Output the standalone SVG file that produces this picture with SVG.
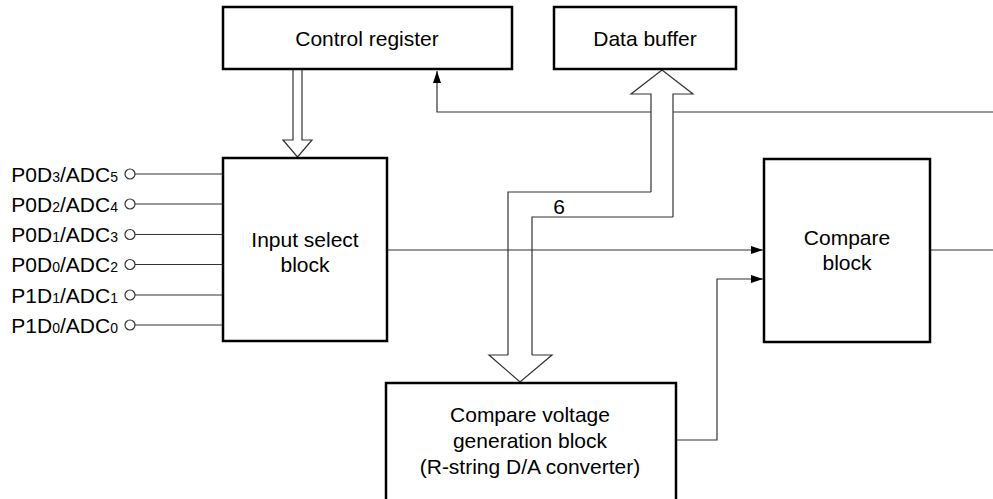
<svg xmlns="http://www.w3.org/2000/svg" width="993" height="499" viewBox="0 0 993 499">
<style>
.box{fill:#fff;stroke:#000;stroke-width:2.5}
.ln{fill:none;stroke:#333;stroke-width:1.2}
.bus{fill:#fff;stroke:#333;stroke-width:1.2}
text{font-family:"Liberation Sans",Arial,sans-serif;font-size:21px;fill:#000}
.c{text-anchor:middle}
.e{text-anchor:end}
.s{font-size:14px}
.pin{fill:#fff;stroke:#333;stroke-width:1.2}
</style>
<defs>
<marker id="ah" markerWidth="12" markerHeight="8" refX="12" refY="4" orient="auto" markerUnits="userSpaceOnUse">
<path d="M0,0 L12,4 L0,8 Z" fill="#000"/>
</marker>
</defs>
<rect width="993" height="499" fill="#fff"/>
<g id="connectors">
<path class="ln" d="M993,112 H437 V71" marker-end="url(#ah)"/>
<path class="ln" d="M388,250 H763" marker-end="url(#ah)"/>
<path class="ln" d="M676,440 H717 V279 H763" marker-end="url(#ah)"/>
<path class="ln" d="M931,250 H993"/>
<path class="ln" d="M135,174 H223 M135,204 H223 M135,234.5 H223 M135,264.5 H223 M135,295 H223 M135,325 H223"/>
<path class="bus" d="M293,70 V140 H283 L297.5,157 L312,140 H302 V70"/>
<path class="bus" d="M651,192 V94 H631 L662,70 L693,94 H673 V217"/>
<path class="ln" d="M651,192 H508 V355 M673,217 H532 V355"/>
<path class="bus" d="M508,355 H489 L520,382 L552,355 H532"/>
<text x="559" y="214" class="c">6</text>
</g>
<g id="pins">
<circle class="pin" cx="130" cy="174" r="5"/>
<circle class="pin" cx="130" cy="204" r="5"/>
<circle class="pin" cx="130" cy="234.5" r="5"/>
<circle class="pin" cx="130" cy="264.5" r="5"/>
<circle class="pin" cx="130" cy="295" r="5"/>
<circle class="pin" cx="130" cy="325" r="5"/>
<text x="118" y="181.5" class="e">P0D<tspan class="s">3</tspan>/ADC<tspan class="s">5</tspan></text>
<text x="118" y="211.5" class="e">P0D<tspan class="s">2</tspan>/ADC<tspan class="s">4</tspan></text>
<text x="118" y="242" class="e">P0D<tspan class="s">1</tspan>/ADC<tspan class="s">3</tspan></text>
<text x="118" y="272" class="e">P0D<tspan class="s">0</tspan>/ADC<tspan class="s">2</tspan></text>
<text x="118" y="302.5" class="e">P1D<tspan class="s">1</tspan>/ADC<tspan class="s">1</tspan></text>
<text x="118" y="332.5" class="e">P1D<tspan class="s">0</tspan>/ADC<tspan class="s">0</tspan></text>
</g>
<g id="control-register">
<rect class="box" x="223" y="7" width="289" height="62"/>
<text x="367" y="46" class="c">Control register</text>
</g>
<g id="data-buffer">
<rect class="box" x="554" y="7" width="182" height="62"/>
<text x="645" y="46" class="c">Data buffer</text>
</g>
<g id="input-select">
<rect class="box" x="223" y="158" width="164" height="183"/>
<text x="305" y="247" class="c">Input select</text>
<text x="305" y="272" class="c">block</text>
</g>
<g id="compare-block">
<rect class="box" x="764" y="159" width="166" height="183"/>
<text x="847" y="245" class="c">Compare</text>
<text x="847" y="270" class="c">block</text>
</g>
<g id="compare-voltage">
<rect class="box" x="386" y="383" width="290" height="125"/>
<text x="530" y="422" class="c">Compare voltage</text>
<text x="530" y="448" class="c">generation block</text>
<text x="530" y="474" class="c">(R-string D/A converter)</text>
</g>
</svg>
